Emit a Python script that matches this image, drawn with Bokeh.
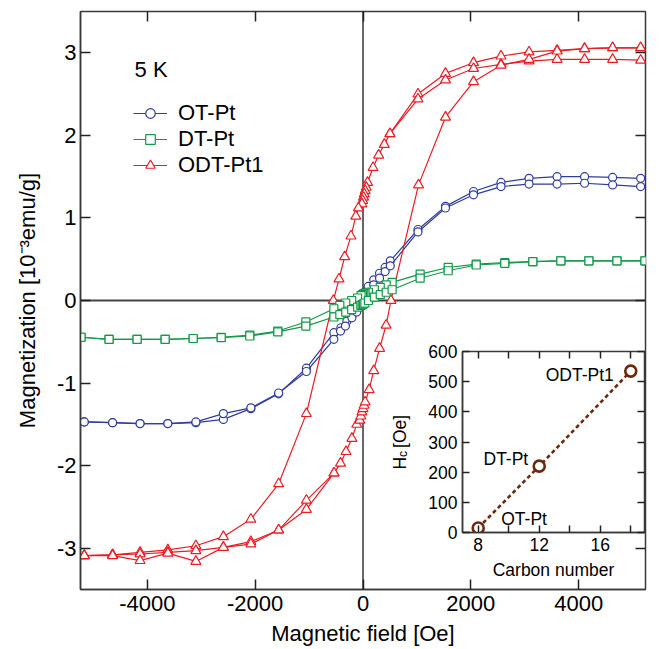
import math
from bokeh.plotting import figure
from bokeh.models import (Range1d, LinearAxis, FixedTicker, Span, Label, Legend, LegendItem, GridBox)
from bokeh.embed import file_html
from bokeh.resources import INLINE
from bokeh.core.properties import value

FONT = "Liberation Sans"

# ---------------- main panel data (field in Oe, magnetization in 1e-3 emu/g) ----------------
# OT-Pt
ot_desc_h = [5150, 4630, 4110, 3600, 3080, 2560, 2050, 1530, 1020, 506, 410, 307, 199, 96, 30, 0, -30,
             -116, -206, -300, -410, -540, -1050, -1565, -2080, -2590, -3100, -3620, -4135, -4645, -5170]
ot_desc_m = [1.48, 1.49, 1.50, 1.50, 1.48, 1.43, 1.32, 1.14, 0.86, 0.48, 0.40, 0.33, 0.25, 0.17, 0.10, 0.06, 0.02,
             -0.09, -0.17, -0.25, -0.33, -0.39, -0.82, -1.13, -1.31, -1.44, -1.48, -1.49, -1.49, -1.48, -1.47]
ot_asc_h = [-5170, -4645, -4135, -3620, -3100, -2590, -2080, -1565, -1050, -540, -417, -326, -206, -116, -30, 0, 30,
            96, 199, 307, 410, 506, 1020, 1530, 2050, 2560, 3080, 3600, 4110, 4630, 5150]
ot_asc_m = [-1.47, -1.48, -1.49, -1.49, -1.47, -1.37, -1.30, -1.12, -0.86, -0.47, -0.37, -0.31, -0.21, -0.14, -0.06, -0.02, 0.02,
            0.10, 0.19, 0.27, 0.35, 0.42, 0.83, 1.12, 1.28, 1.38, 1.41, 1.41, 1.42, 1.40, 1.38]

# DT-Pt
dt_desc_h = [5230, 4710, 4190, 3670, 3150, 2630, 2100, 1580, 1060, 540, 430, 320, 210, 100, 40, 15, -10, -35,
             -100, -210, -320, -430, -540, -1060, -1580, -2100, -2630, -3150, -3670, -4190, -4710, -5230]
dt_desc_m = [0.48, 0.48, 0.48, 0.48, 0.47, 0.46, 0.44, 0.40, 0.32, 0.22, 0.19, 0.16, 0.13, 0.10, 0.09, 0.08, 0.07, 0.06,
             0.03, 0.00, -0.03, -0.06, -0.10, -0.26, -0.37, -0.42, -0.445, -0.46, -0.47, -0.47, -0.47, -0.445]
dt_asc_h = [-5230, -4710, -4190, -3670, -3150, -2630, -2100, -1580, -1060, -540, -430, -320, -210, -100, -40, -15, 10, 35,
            100, 210, 320, 430, 540, 1060, 1580, 2100, 2630, 3150, 3670, 4190, 4710, 5230]
dt_asc_m = [-0.445, -0.47, -0.47, -0.47, -0.46, -0.45, -0.43, -0.38, -0.31, -0.20, -0.17, -0.14, -0.11, -0.08, -0.06, -0.05, -0.04, -0.03,
            0.00, 0.04, 0.07, 0.10, 0.13, 0.27, 0.36, 0.43, 0.45, 0.47, 0.48, 0.48, 0.48, 0.48]

# ODT-Pt1
odt_desc_h = [5150, 4630, 4110, 3600, 3080, 2560, 2050, 1530, 1020, 500, 395, 290, 186, 84, 60, 40, 25, 10, -5, -20,
              -85, -133, -224, -340, -445, -550, -1050, -1565, -2080, -2590, -3100, -3620, -4135, -4645, -5170]
odt_desc_m = [3.06, 3.06, 3.05, 3.03, 3.01, 2.96, 2.88, 2.75, 2.50, 2.02, 1.89, 1.76, 1.61, 1.43, 1.37, 1.33, 1.29, 1.25, 1.21, 1.17,
              1.12, 1.02, 0.78, 0.53, 0.26, 0.00, -1.37, -2.22, -2.65, -2.86, -2.97, -3.02, -3.05, -3.08, -3.09]
odt_desc2_h = [5150, 4630, 4110, 3600, 3080, 2560, 2050, 1530, 1020, 500]
odt_desc2_m = [2.91, 2.92, 2.92, 2.92, 2.90, 2.86, 2.81, 2.67, 2.44, 2.02]
odt_asc_h = [-5170, -4645, -4135, -3620, -3100, -2590, -2080, -1565, -1050, -538, -417, -315, -206, -116, -60, -40, -20, 0, 20, 40,
             114, 199, 308, 428, 518, 1030, 1530, 2050, 2560, 3080, 3600, 4110, 4630, 5150]
odt_asc_m = [-3.09, -3.08, -3.07, -3.05, -3.03, -2.99, -2.92, -2.78, -2.42, -2.09, -1.97, -1.83, -1.67, -1.50, -1.45, -1.40, -1.35, -1.31, -1.27, -1.23,
             -1.08, -0.85, -0.58, -0.30, 0.00, 1.40, 2.22, 2.65, 2.85, 2.92, 3.02, 3.05, 3.06, 3.06]
odt_asc2_h = [-5170, -4645, -4135, -3620, -3100, -2590, -2080, -1565, -1050, -538]
odt_asc2_m = [-3.09, -3.09, -3.15, -3.06, -3.16, -2.99, -2.95, -2.78, -2.53, -2.09]

x_ticks = [-4000, -2000, 0, 2000, 4000]
y_ticks = [-3, -2, -1, 0, 1, 2, 3]
series_names = ["OT-Pt", "DT-Pt", "ODT-Pt1"]
temperature_label = "5 K"

# ---------------- inset data ----------------
carbon_number = [8, 12, 18]
coercivity = [15, 220, 535]
inset_names = ["OT-Pt", "DT-Pt", "ODT-Pt1"]
inset_x_ticks = [8, 12, 16]
inset_x_minor = [10, 14, 18]
inset_y_ticks = [0, 100, 200, 300, 400, 500, 600]

BLUE = "#2f3d9c"
GREEN = "#12994a"
RED = "#ec1c24"
BROWN = "#6a2a0e"
AX = "#3a3a3a"


def style_axis(ax, fs, tick_in, standoff, label_standoff=None):
    ax.axis_line_color = AX
    ax.axis_line_width = 1.5
    ax.major_tick_in = tick_in
    ax.major_tick_out = 0
    ax.minor_tick_in = 0
    ax.minor_tick_out = 0
    ax.major_tick_line_color = "#222222"
    ax.major_tick_line_width = 1.5
    ax.major_label_text_font = FONT
    ax.major_label_text_font_size = fs
    ax.major_label_text_color = "black"
    ax.major_label_standoff = standoff
    ax.axis_label_text_font = FONT
    ax.axis_label_text_font_size = fs
    ax.axis_label_text_font_style = "normal"
    ax.axis_label_text_color = "black"
    if label_standoff is not None:
        ax.axis_label_standoff = label_standoff


def mirror_axis(ticks, tick_in, minor=None):
    t = FixedTicker(ticks=ticks, minor_ticks=minor or [])
    ax = LinearAxis(ticker=t, major_label_overrides={k: "" for k in ticks},
                    major_label_text_font_size="1px", major_label_standoff=0)
    ax.axis_line_color = None
    ax.major_tick_in = tick_in
    ax.major_tick_out = 0
    ax.minor_tick_in = tick_in if minor else 0
    ax.minor_tick_out = 0
    ax.major_tick_line_color = "#222222"
    ax.major_tick_line_width = 1.5
    ax.minor_tick_line_color = "#222222"
    ax.minor_tick_line_width = 1.5
    return ax


# ---------------- main figure ----------------
p = figure(width=660, height=649, output_backend="svg", toolbar_location=None,
           x_range=Range1d(-5240, 5240), y_range=Range1d(-3.5, 3.5),
           min_border_left=80, min_border_right=1, min_border_top=11, min_border_bottom=60,
           x_axis_label="Magnetic field [Oe]", y_axis_label="Magnetization [10⁻³emu/g]")
p.xgrid.visible = False
p.ygrid.visible = False
p.outline_line_color = AX
p.outline_line_width = 1.5
p.background_fill_color = "white"

p.xaxis.ticker = FixedTicker(ticks=x_ticks)
p.yaxis.ticker = FixedTicker(ticks=y_ticks)
p.xaxis.major_label_overrides = {t: str(t) for t in x_ticks}
p.yaxis.major_label_overrides = {t: str(t) for t in y_ticks}
style_axis(p.xaxis[0], "22px", 10, 6, 7)
style_axis(p.yaxis[0], "22px", 10, 4, 14)

p.add_layout(mirror_axis(x_ticks, 10), "above")
p.add_layout(mirror_axis(y_ticks, 10), "right")

p.add_layout(Span(location=0, dimension="height", line_color="black", line_width=1.2, level="underlay"))
p.add_layout(Span(location=0, dimension="width", line_color="#444444", line_width=2, level="underlay"))


def branch(fig, h, m, color, marker, size):
    lr = fig.line(h, m, line_color=color, line_width=1.2)
    sr = fig.scatter(h, m, marker=marker, size=size, line_color=color, line_width=1.2, fill_color="white")
    return lr, sr


ot1 = branch(p, ot_desc_h, ot_desc_m, BLUE, "circle", 8)
branch(p, ot_asc_h, ot_asc_m, BLUE, "circle", 8)
odt1 = branch(p, odt_desc_h, odt_desc_m, RED, "triangle", 10)
branch(p, odt_desc2_h, odt_desc2_m, RED, "triangle", 10)
branch(p, odt_asc_h, odt_asc_m, RED, "triangle", 10)
branch(p, odt_asc2_h, odt_asc2_m, RED, "triangle", 10)
dt1 = branch(p, dt_desc_h, dt_desc_m, GREEN, "square", 8)
branch(p, dt_asc_h, dt_asc_m, GREEN, "square", 8)

legend = Legend(items=[LegendItem(label=series_names[0], renderers=list(ot1)),
                       LegendItem(label=series_names[1], renderers=list(dt1)),
                       LegendItem(label=series_names[2], renderers=list(odt1))],
                location=(53, 411), padding=0, margin=0, spacing=0,
                glyph_width=34, glyph_height=24, label_height=24, label_standoff=11,
                label_text_font=FONT, label_text_font_size="22px", label_text_color="black",
                border_line_color=None, background_fill_alpha=0)
p.add_layout(legend)

p.add_layout(Label(x=-4237, y=2.80, text=temperature_label, text_font=FONT, text_font_size="22px",
                   text_baseline="middle", text_align="left", text_color="black"))

# inset y-axis title "H_c [Oe]" (pieces, rotated); drawn on the main canvas beside the inset
p.add_layout(Label(x=680, y=-2.048, text="H", angle=math.pi / 2, text_font=FONT, text_font_size="17.5px",
                   text_align="left", text_baseline="alphabetic", text_color="black"))
p.add_layout(Label(x=738, y=-1.896, text="c", angle=math.pi / 2, text_font=FONT, text_font_size="12px",
                   text_align="left", text_baseline="alphabetic", text_color="black"))
p.add_layout(Label(x=680, y=-1.785, text="[Oe]", angle=math.pi / 2, text_font=FONT, text_font_size="17.5px",
                   text_align="left", text_baseline="alphabetic", text_color="black"))

# ---------------- inset figure ----------------
q = figure(frame_width=182, frame_height=181, output_backend="svg", toolbar_location=None,
           x_range=Range1d(6.97, 18.9), y_range=Range1d(0, 600),
           min_border_left=73, min_border_right=15, min_border_top=11, min_border_bottom=56,
           x_axis_label="Carbon number")
q.margin = (340, 0, 0, 382)
q.xgrid.visible = False
q.ygrid.visible = False
q.border_fill_alpha = 0
q.background_fill_color = "white"
q.outline_line_color = AX
q.outline_line_width = 1.5
q.xaxis.ticker = FixedTicker(ticks=inset_x_ticks, minor_ticks=inset_x_minor)
q.yaxis.ticker = FixedTicker(ticks=inset_y_ticks)
style_axis(q.xaxis[0], "17.5px", 7, 5, 6)
style_axis(q.yaxis[0], "17.5px", 7, 5)
q.xaxis.minor_tick_in = 7
q.xaxis.minor_tick_line_color = "#222222"
q.xaxis.minor_tick_line_width = 1.5
q.add_layout(mirror_axis(inset_x_ticks, 7, inset_x_minor), "above")
q.add_layout(mirror_axis(inset_y_ticks, 7), "right")

q.line(carbon_number, coercivity, line_color=BROWN, line_width=2.6, line_dash="4 3")
q.scatter(carbon_number, coercivity, marker="circle", size=11, line_color=BROWN, line_width=2.6, fill_color="white")

aligns = ["left", "right", "right"]
xoffs = [23, -11, -17]
yoffs = [-9, -7, 4]
for i in range(3):
    q.text(x=[carbon_number[i]], y=[coercivity[i]], text=[inset_names[i]], x_offset=xoffs[i], y_offset=yoffs[i],
           text_align=aligns[i], text_baseline="middle", text_font=value(FONT), text_font_size="17.5px",
           text_color="black")

layout = GridBox(children=[(p, 0, 0), (q, 0, 0)])
open("out.html", "w").write(file_html(layout, INLINE))
